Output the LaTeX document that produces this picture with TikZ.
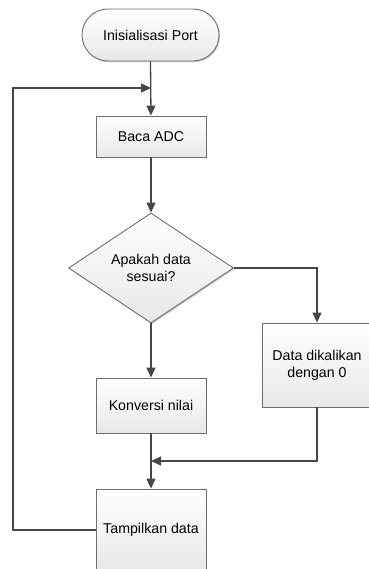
\documentclass[tikz,border=0pt]{standalone}
\usepackage{fontspec}
\setmainfont{Liberation Sans}
\usetikzlibrary{shapes.geometric,arrows.meta,shadows}
\definecolor{linec}{HTML}{474747}
\definecolor{boxc}{HTML}{6E6E6E}
\tikzset{
  x=1pt,y=1pt,
  base/.style={draw=boxc, line width=0.9pt, top color=white, bottom color=black!9,
    drop shadow={shadow xshift=1pt, shadow yshift=-1.2pt, opacity=0.35, fill=black!60},
    font=\fontsize{14.2}{17}\selectfont, align=center, inner sep=0pt},
  term/.style={base, rounded corners=26pt, minimum width=137pt, minimum height=52pt},
  proc/.style={base, rectangle, minimum width=110pt},
  deci/.style={base, diamond, minimum width=165pt, minimum height=110pt, aspect=1.5},
  conn/.style={draw=linec, line width=1.3pt},
  arr/.style={conn, -{Triangle[length=10pt,width=9pt]}}
}
\begin{document}
\begin{tikzpicture}
\useasboundingbox (0,0) rectangle (368,-569);
\node[term] (init) at (150.5,-35) {Inisialisasi Port};
\node[proc, minimum height=41pt] (baca) at (151,-136.5) {Baca ADC};
\node[deci] (dec) at (151,-268) {Apakah data\\sesuai?};
\node[proc, minimum height=55pt] (konv) at (151,-405.5) {Konversi nilai};
\node[proc, minimum height=84pt] (kali) at (317,-365) {Data dikalikan\\dengan 0};
\node[proc, minimum height=82pt] (tamp) at (151,-530) {Tampilkan data};
\coordinate (loopc) at (151,-88);
\coordinate (mergec) at (151,-461);
\coordinate (ll) at (13,-530);
\coordinate (lu) at (13,-88);
\coordinate (rt) at (317,-268);
\coordinate (rb) at (317,-461);
\draw[arr] (init.south) -- (baca.north);
\draw[arr] (baca.south) -- (dec.north);
\draw[arr] (dec.south) -- (konv.north);
\draw[arr] (konv.south) -- (tamp.north);
\draw[arr] (dec.east) -- (rt) -- (kali.north);
\draw[arr] (kali.south) -- (rb) -- (mergec);
\draw[arr] (tamp.west) -- (ll) -- (lu) -- (loopc);
\end{tikzpicture}
\end{document}
